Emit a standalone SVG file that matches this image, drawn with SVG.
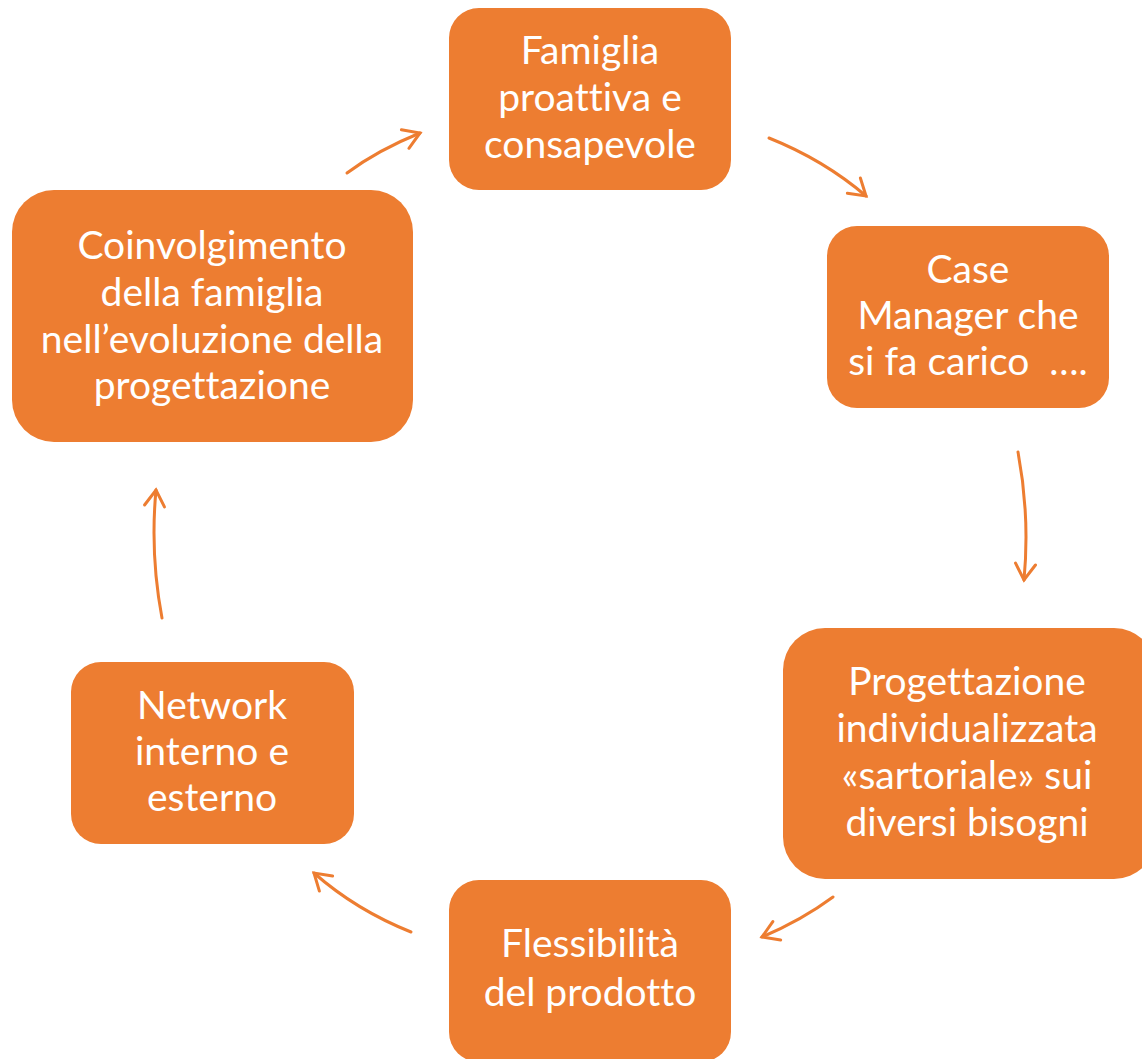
<svg xmlns="http://www.w3.org/2000/svg" width="1142" height="1059" viewBox="0 0 1142 1059">
<style>
.box{fill:#ED7D31;}
.t{font-family:Lato,"Open Sans","Liberation Sans",sans-serif;font-size:39px;fill:#ffffff;text-anchor:middle;font-variant-ligatures:none;font-feature-settings:"liga" 0,"clig" 0;}
.c{fill:none;stroke:#ED7D31;stroke-width:3;stroke-linecap:round;}
</style>
<defs>
<marker id="ah" markerUnits="userSpaceOnUse" viewBox="-22 -14 26 28" refX="0" refY="0" markerWidth="26" markerHeight="28" orient="auto" overflow="visible">
<path d="M-16,-10 L0,0 L-16,10" fill="none" stroke="#ED7D31" stroke-width="3" stroke-linecap="round" stroke-linejoin="miter"/>
</marker>
</defs>
<rect width="1142" height="1059" fill="#ffffff"/>
<g id="connectors">
<path class="c" d="M347,173 Q378,150 420,133" marker-end="url(#ah)"/>
<path class="c" d="M769,138 Q824,160 866,196" marker-end="url(#ah)"/>
<path class="c" d="M1018,452 Q1030,516 1024,580" marker-end="url(#ah)"/>
<path class="c" d="M833,897 Q802,920 762,937" marker-end="url(#ah)"/>
<path class="c" d="M411,932 Q356,910 314,873" marker-end="url(#ah)"/>
<path class="c" d="M162,618 Q150,554 156,490" marker-end="url(#ah)"/>
</g>
<g id="n1">
<rect class="box" x="449" y="8" width="282" height="182" rx="30"/>
<text class="t" x="590" y="64">Famiglia</text>
<text class="t" x="590" y="111">proattiva e</text>
<text class="t" x="590" y="158">consapevole</text>
</g>
<g id="n2">
<rect class="box" x="827" y="226" width="282" height="182" rx="30"/>
<text class="t" x="968" y="283">Case</text>
<text class="t" x="968" y="329">Manager che</text>
<text class="t" x="968" y="375" xml:space="preserve">si fa carico  ….</text>
</g>
<g id="n3">
<rect class="box" x="783" y="628" width="373" height="251" rx="42"/>
<text class="t" x="967" y="695">Progettazione</text>
<text class="t" x="967" y="742">individualizzata</text>
<text class="t" x="967" y="789">«sartoriale» sui</text>
<text class="t" x="967" y="836">diversi bisogni</text>
</g>
<g id="n4">
<rect class="box" x="449" y="880" width="282" height="182" rx="30"/>
<text class="t" x="590" y="957">Flessibilità</text>
<text class="t" x="590" y="1006">del prodotto</text>
</g>
<g id="n5">
<rect class="box" x="71" y="662" width="283" height="182" rx="30"/>
<text class="t" x="212" y="719">Network</text>
<text class="t" x="212" y="765">interno e</text>
<text class="t" x="212" y="811">esterno</text>
</g>
<g id="n6">
<rect class="box" x="12" y="190" width="401" height="252" rx="42"/>
<text class="t" x="212" y="259">Coinvolgimento</text>
<text class="t" x="212" y="306">della famiglia</text>
<text class="t" x="212" y="353">nell’evoluzione della</text>
<text class="t" x="212" y="399">progettazione</text>
</g>
</svg>
